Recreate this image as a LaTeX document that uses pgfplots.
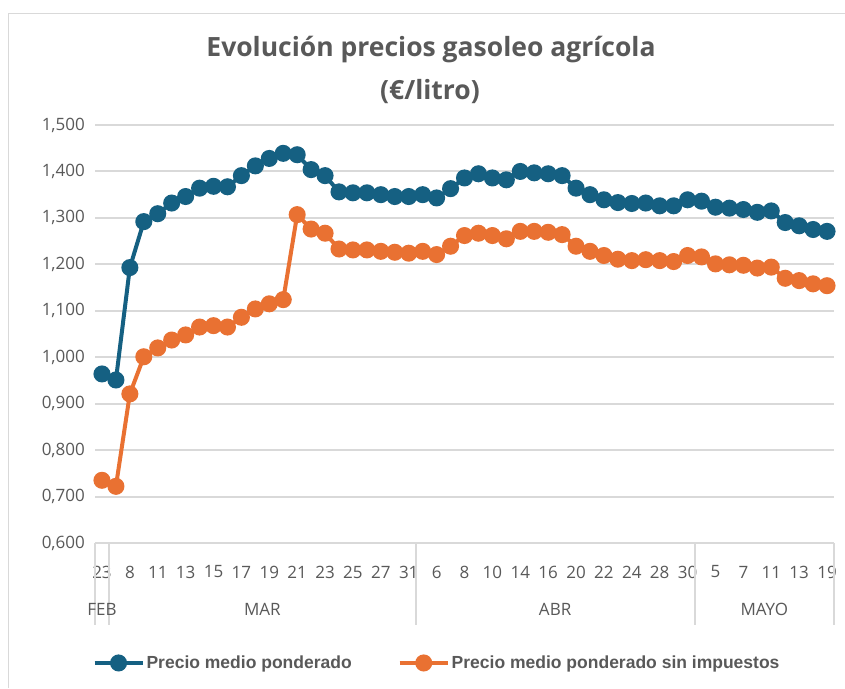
\documentclass[border=0pt]{standalone}
\usepackage{fontspec}
\setmainfont{Open Sans}
\newfontfamily\legfont{Liberation Sans}
\usepackage{pgfplots}
\pgfplotsset{compat=1.18}
\definecolor{cblue}{HTML}{156082}
\definecolor{corange}{HTML}{E97132}
\definecolor{txt}{HTML}{595959}
\definecolor{grd}{HTML}{D9D9D9}
\begin{document}
\begin{tikzpicture}
\useasboundingbox (0,0) rectangle (845pt,688pt);
\fill[white] (0,0) rectangle (845pt,688pt);
\draw[grd,line width=1pt] (8pt,0pt) -- (8pt,674pt) -- (845pt,674pt);
\node[txt,font=\bfseries\fontsize{26.5}{30}\selectfont] at (431pt,638pt) {Evolución precios gasoleo agrícola};
\node[txt,font=\bfseries\fontsize{26.5}{30}\selectfont] at (430pt,596pt) {(€/litro)};
\begin{axis}[
  at={(95pt,145pt)}, anchor=south west,
  scale only axis, width=739pt, height=418pt,
  xmin=-0.5, xmax=52.5, ymin=0.6, ymax=1.5,
  clip=false,
  axis line style={draw=none},
  tick style={draw=none},
  ytick={0.6,0.7,0.8,0.9,1.0,1.1,1.2,1.3,1.4,1.5},
  ymajorgrids, grid style={grd,line width=2pt},
  xtick={0,2,...,52},
  xticklabels={23,8,11,13,15,17,19,21,23,25,27,31,6,8,10,14,16,20,22,24,28,30,5,7,11,13,19},
  xticklabel style={anchor=center,yshift=-29pt,inner sep=0pt,text=txt,font=\fontsize{17}{20}\selectfont},
  yticklabel style={anchor=east,inner sep=0pt,xshift=-10pt,text=txt,font=\fontsize{17}{20}\selectfont,
    /pgf/number format/.cd,fixed,fixed zerofill,precision=3,use comma,assume math mode=true},
  legend columns=2,
  legend style={at={(0.4628,-0.287)},anchor=center,draw=none,fill=none,
    font=\legfont\bfseries\fontsize{17.5}{20}\selectfont,text=txt,
    /tikz/every even column/.append style={column sep=44pt},
    nodes={inner sep=2pt}},
  legend image code/.code={\draw[mark repeat=2,mark phase=2,#1] plot coordinates {(0pt,0pt) (24pt,0pt) (48pt,0pt)};},
]
\addplot[cblue,line width=4pt,mark=*,mark size=6.5pt,mark options={solid}] coordinates {
(0,0.964)(1,0.951)(2,1.193)(3,1.292)(4,1.309)(5,1.332)(6,1.346)(7,1.364)(8,1.368)(9,1.367)
(10,1.391)(11,1.412)(12,1.428)(13,1.439)(14,1.436)(15,1.404)(16,1.391)(17,1.356)(18,1.354)(19,1.354)
(20,1.350)(21,1.346)(22,1.346)(23,1.350)(24,1.343)(25,1.363)(26,1.386)(27,1.395)(28,1.386)(29,1.382)
(30,1.400)(31,1.397)(32,1.395)(33,1.391)(34,1.364)(35,1.350)(36,1.339)(37,1.333)(38,1.331)(39,1.332)
(40,1.326)(41,1.326)(42,1.339)(43,1.336)(44,1.323)(45,1.321)(46,1.318)(47,1.312)(48,1.315)(49,1.290)
(50,1.283)(51,1.275)(52,1.271)};
\addlegendentry{Precio medio ponderado}
\addplot[corange,line width=4pt,mark=*,mark size=6.5pt,mark options={solid}] coordinates {
(0,0.735)(1,0.722)(2,0.921)(3,1.001)(4,1.020)(5,1.037)(6,1.048)(7,1.065)(8,1.068)(9,1.065)
(10,1.086)(11,1.104)(12,1.115)(13,1.124)(14,1.307)(15,1.276)(16,1.267)(17,1.233)(18,1.231)(19,1.231)
(20,1.228)(21,1.226)(22,1.224)(23,1.228)(24,1.221)(25,1.239)(26,1.262)(27,1.267)(28,1.262)(29,1.255)
(30,1.271)(31,1.271)(32,1.269)(33,1.264)(34,1.239)(35,1.228)(36,1.219)(37,1.211)(38,1.208)(39,1.210)
(40,1.208)(41,1.206)(42,1.219)(43,1.216)(44,1.201)(45,1.199)(46,1.198)(47,1.192)(48,1.194)(49,1.170)
(50,1.165)(51,1.158)(52,1.154)};
\addlegendentry{Precio medio ponderado sin impuestos}
\draw[grd,line width=2pt] (axis cs:-0.5,0.6) -- ([yshift=-82pt]axis cs:-0.5,0.6);
\draw[grd,line width=2pt] (axis cs:0.5,0.6) -- ([yshift=-82pt]axis cs:0.5,0.6);
\draw[grd,line width=2pt] (axis cs:22.5,0.6) -- ([yshift=-82pt]axis cs:22.5,0.6);
\draw[grd,line width=2pt] (axis cs:42.5,0.6) -- ([yshift=-82pt]axis cs:42.5,0.6);
\draw[grd,line width=2pt] (axis cs:52.5,0.6) -- ([yshift=-82pt]axis cs:52.5,0.6);
\node[txt,font=\fontsize{17}{20}\selectfont] at ([yshift=-66pt]axis cs:0,0.6) {FEB};
\node[txt,font=\fontsize{17}{20}\selectfont] at ([yshift=-66pt]axis cs:11.5,0.6) {MAR};
\node[txt,font=\fontsize{17}{20}\selectfont] at ([yshift=-66pt]axis cs:32.5,0.6) {ABR};
\node[txt,font=\fontsize{17}{20}\selectfont] at ([yshift=-66pt]axis cs:47.5,0.6) {MAYO};
\end{axis}
\end{tikzpicture}
\end{document}
